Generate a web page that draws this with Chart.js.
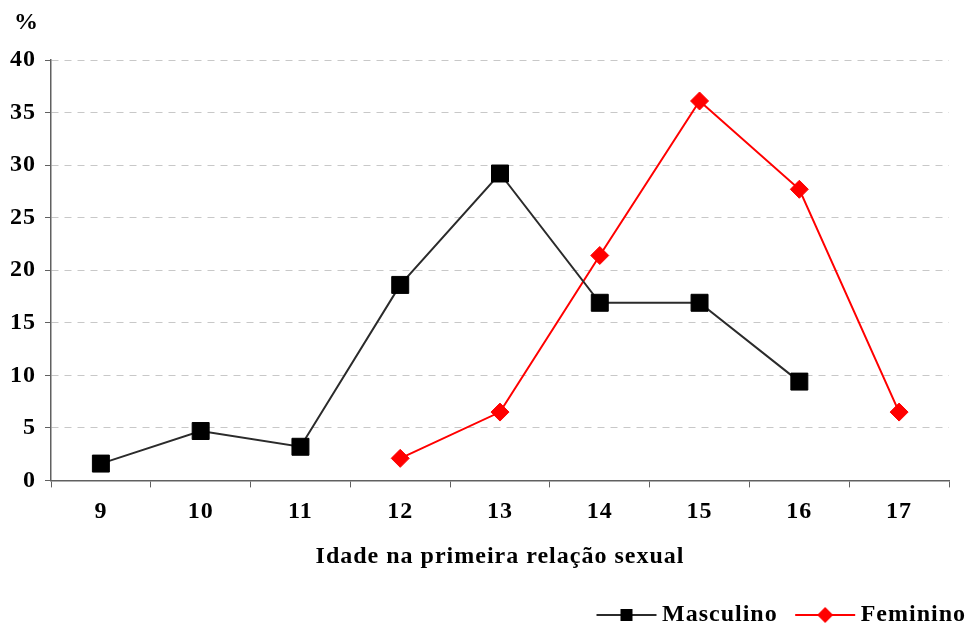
<!DOCTYPE html>
<html>
<head>
<meta charset="utf-8">
<script src="https://cdn.jsdelivr.net/npm/chart.js@4.4.1/dist/chart.umd.min.js"></script>
<style>
  html, body { margin: 0; padding: 0; background: #fff; }
  #wrap { width: 968px; height: 627px; }
</style>
</head>
<body>
<div id="wrap"><canvas id="chart"></canvas></div>
<script>
// data
const ages = ['9', '10', '11', '12', '13', '14', '15', '16', '17'];
const masculino = [1.6, 4.7, 3.2, 18.6, 29.2, 16.9, 16.9, 9.4, null];
const feminino = [null, null, null, 2.1, 6.5, 21.4, 36.1, 27.7, 6.5];
const yTicks = [0, 5, 10, 15, 20, 25, 30, 35, 40];

const FONT = "'Liberation Serif', 'Times New Roman', serif";
const SPACING = '1px';

// legend symbol: line + marker, drawn with a blank margin on the left
function legendSymbol(color, shape) {
  const c = document.createElement('canvas');
  c.width = 90; c.height = 20;
  const g = c.getContext('2d');
  g.strokeStyle = color;
  g.lineWidth = 2;
  g.beginPath(); g.moveTo(26, 10); g.lineTo(86, 10); g.stroke();
  g.fillStyle = shape === 'square' ? '#000' : color;
  g.beginPath();
  if (shape === 'square') {
    g.rect(50, 4, 12, 12);
  } else {
    g.moveTo(56, 2); g.lineTo(64, 10); g.lineTo(56, 18); g.lineTo(48, 10); g.closePath();
  }
  g.fill();
  return c;
}

const spacingPlugin = {
  id: 'letterSpacing',
  beforeLayout(chart) { chart.ctx.letterSpacing = SPACING; },
  beforeDraw(chart) { chart.ctx.letterSpacing = SPACING; }
};

// the "%" unit label above the y axis
const unitPlugin = {
  id: 'unitLabel',
  afterDraw(chart) {
    const ctx = chart.ctx;
    ctx.save();
    ctx.letterSpacing = SPACING;
    ctx.font = 'bold 24px ' + FONT;
    ctx.fillStyle = '#000';
    ctx.textAlign = 'left';
    ctx.textBaseline = 'middle';
    ctx.fillText('%', 14, 23);
    ctx.restore();
  }
};

Chart.defaults.font.family = FONT;
Chart.defaults.font.weight = 'bold';
Chart.defaults.font.size = 24;
Chart.defaults.color = '#000';

new Chart(document.getElementById('chart'), {
  type: 'line',
  data: {
    labels: ages,
    datasets: [
      {
        label: 'Masculino',
        data: masculino,
        borderColor: '#2b2b2b',
        borderWidth: 2,
        pointStyle: 'rect',
        pointRadius: 12,
        pointBackgroundColor: '#000',
        pointBorderColor: '#000',
        pointBorderWidth: 1,
        spanGaps: false
      },
      {
        label: 'Feminino',
        data: feminino,
        borderColor: '#ff0000',
        borderWidth: 2,
        pointStyle: 'rectRot',
        pointRadius: 9,
        pointBackgroundColor: '#ff0000',
        pointBorderColor: '#ff0000',
        pointBorderWidth: 1,
        spanGaps: false
      }
    ]
  },
  options: {
    responsive: true,
    maintainAspectRatio: false,
    animation: false,
    events: [],
    layout: { padding: { left: 0, right: 0, top: 60, bottom: -10 } },
    plugins: {
      tooltip: { enabled: false },
      title: { display: false },
      legend: {
        position: 'bottom',
        align: 'end',
        labels: {
          font: { size: 24, weight: 'bold' },
          usePointStyle: true,
          pointStyleWidth: 69,
          padding: 2,
          generateLabels(chart) {
            return chart.data.datasets.map((ds, i) => ({
              text: ds.label,
              datasetIndex: i,
              fontColor: '#000',
              lineWidth: 0,
              pointStyle: legendSymbol(ds.borderColor, i === 0 ? 'square' : 'diamond')
            }));
          }
        }
      }
    },
    scales: {
      x: {
        offset: true,
        grid: {
          offset: true,
          drawOnChartArea: false,
          drawTicks: true,
          tickLength: 7,
          tickColor: '#606060'
        },
        border: { color: '#606060', width: 1.5 },
        ticks: { font: { size: 24 }, padding: 10, maxRotation: 0 },
        title: {
          display: true,
          text: 'Idade na primeira relação sexual',
          font: { size: 24, weight: 'bold' },
          padding: { top: 6, bottom: 30 }
        }
      },
      y: {
        min: 0,
        max: 40,
        afterBuildTicks(scale) { scale.ticks = yTicks.map(v => ({ value: v })); },
        afterFit(scale) { scale.width = 51; },
        grid: {
          color: '#c8c8c8',
          lineWidth: 1,
          drawTicks: true,
          tickLength: 6,
          tickColor: '#606060'
        },
        border: { color: '#606060', width: 1.5, dash: [7, 6] },
        ticks: { font: { size: 24 }, padding: 9 }
      },
      spacer: {
        type: 'linear',
        position: 'right',
        display: true,
        afterFit(scale) { scale.width = 19; },
        grid: { display: false },
        border: { display: false },
        ticks: { display: false }
      }
    }
  },
  plugins: [spacingPlugin, unitPlugin]
});
</script>
</body>
</html>
